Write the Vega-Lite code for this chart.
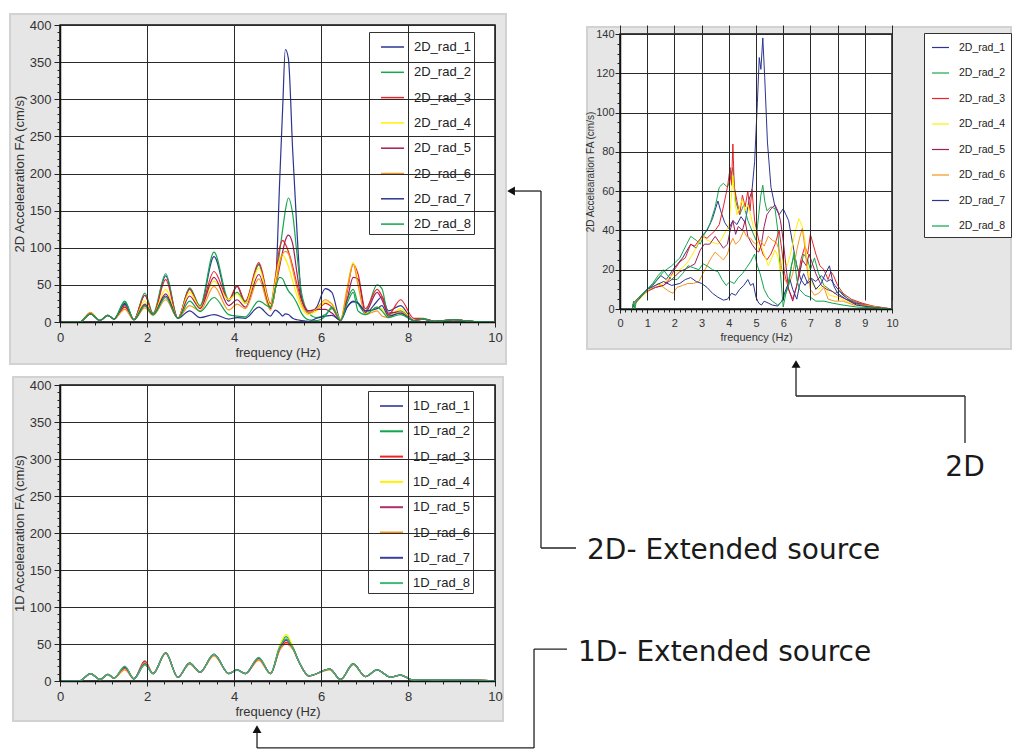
{
"$schema": "https://vega.github.io/schema/vega-lite/v6.json",
"padding": {"left": 9, "top": 13, "right": 0, "bottom": 0},
"background": "white",
"config": {
 "view": {"stroke": null},
 "axis": {"labelFont": "Liberation Sans", "titleFont": "Liberation Sans", "labelColor": "#333", "titleColor": "#333", "titleFontWeight": "normal", "domainColor": "#111", "tickColor": "#222", "gridColor": "#2a2a2a", "gridWidth": 1, "gridOpacity": 1, "labelOverlap": false, "labelFlush": false},
 "legend": {"labelFont": "Liberation Sans", "labelColor": "#222"}
},
"datasets": {
"tl": [
{"s":"2D_rad_1","f":0,"v":0},{"s":"2D_rad_1","f":0.45,"v":0},{"s":"2D_rad_1","f":0.7,"v":11},{"s":"2D_rad_1","f":0.92,"v":2},{"s":"2D_rad_1","f":1.1,"v":9},{"s":"2D_rad_1","f":1.24,"v":4},{"s":"2D_rad_1","f":1.49,"v":24},{"s":"2D_rad_1","f":1.7,"v":3},{"s":"2D_rad_1","f":1.95,"v":36},{"s":"2D_rad_1","f":2.14,"v":10},{"s":"2D_rad_1","f":2.43,"v":62},{"s":"2D_rad_1","f":2.71,"v":5},{"s":"2D_rad_1","f":2.98,"v":45},{"s":"2D_rad_1","f":3.22,"v":20},{"s":"2D_rad_1","f":3.54,"v":88},{"s":"2D_rad_1","f":3.88,"v":28},{"s":"2D_rad_1","f":4.07,"v":48},{"s":"2D_rad_1","f":4.26,"v":25},{"s":"2D_rad_1","f":4.57,"v":78},{"s":"2D_rad_1","f":4.84,"v":20},{"s":"2D_rad_1","f":4.95,"v":45},{"s":"2D_rad_1","f":5.05,"v":190},{"s":"2D_rad_1","f":5.12,"v":290},{"s":"2D_rad_1","f":5.18,"v":367},{"s":"2D_rad_1","f":5.25,"v":355},{"s":"2D_rad_1","f":5.35,"v":230},{"s":"2D_rad_1","f":5.45,"v":120},{"s":"2D_rad_1","f":5.55,"v":35},{"s":"2D_rad_1","f":5.72,"v":12},{"s":"2D_rad_1","f":5.9,"v":20},{"s":"2D_rad_1","f":6.1,"v":45},{"s":"2D_rad_1","f":6.25,"v":40},{"s":"2D_rad_1","f":6.45,"v":3},{"s":"2D_rad_1","f":6.6,"v":20},{"s":"2D_rad_1","f":6.74,"v":27},{"s":"2D_rad_1","f":6.85,"v":25},{"s":"2D_rad_1","f":7.02,"v":12},{"s":"2D_rad_1","f":7.29,"v":28},{"s":"2D_rad_1","f":7.4,"v":34},{"s":"2D_rad_1","f":7.55,"v":15},{"s":"2D_rad_1","f":7.83,"v":22},{"s":"2D_rad_1","f":8.13,"v":2},{"s":"2D_rad_1","f":8.35,"v":4},{"s":"2D_rad_1","f":8.6,"v":1},{"s":"2D_rad_1","f":9.05,"v":3},{"s":"2D_rad_1","f":9.3,"v":2},{"s":"2D_rad_1","f":9.6,"v":0.5},{"s":"2D_rad_1","f":10,"v":0},
{"s":"2D_rad_2","f":0,"v":0},{"s":"2D_rad_2","f":0.45,"v":0},{"s":"2D_rad_2","f":0.7,"v":11},{"s":"2D_rad_2","f":0.92,"v":2},{"s":"2D_rad_2","f":1.1,"v":9},{"s":"2D_rad_2","f":1.24,"v":4},{"s":"2D_rad_2","f":1.49,"v":28},{"s":"2D_rad_2","f":1.7,"v":3},{"s":"2D_rad_2","f":1.95,"v":39},{"s":"2D_rad_2","f":2.14,"v":12},{"s":"2D_rad_2","f":2.43,"v":65},{"s":"2D_rad_2","f":2.71,"v":5},{"s":"2D_rad_2","f":2.98,"v":46},{"s":"2D_rad_2","f":3.22,"v":22},{"s":"2D_rad_2","f":3.54,"v":94},{"s":"2D_rad_2","f":3.88,"v":30},{"s":"2D_rad_2","f":4.07,"v":40},{"s":"2D_rad_2","f":4.26,"v":27},{"s":"2D_rad_2","f":4.57,"v":77},{"s":"2D_rad_2","f":4.84,"v":22},{"s":"2D_rad_2","f":4.95,"v":45},{"s":"2D_rad_2","f":5.05,"v":95},{"s":"2D_rad_2","f":5.12,"v":125},{"s":"2D_rad_2","f":5.18,"v":150},{"s":"2D_rad_2","f":5.25,"v":167},{"s":"2D_rad_2","f":5.35,"v":145},{"s":"2D_rad_2","f":5.45,"v":90},{"s":"2D_rad_2","f":5.55,"v":40},{"s":"2D_rad_2","f":5.72,"v":12},{"s":"2D_rad_2","f":5.9,"v":6},{"s":"2D_rad_2","f":6.1,"v":10},{"s":"2D_rad_2","f":6.25,"v":18},{"s":"2D_rad_2","f":6.45,"v":3},{"s":"2D_rad_2","f":6.6,"v":30},{"s":"2D_rad_2","f":6.74,"v":44},{"s":"2D_rad_2","f":6.85,"v":25},{"s":"2D_rad_2","f":7.02,"v":15},{"s":"2D_rad_2","f":7.29,"v":50},{"s":"2D_rad_2","f":7.4,"v":45},{"s":"2D_rad_2","f":7.55,"v":10},{"s":"2D_rad_2","f":7.83,"v":15},{"s":"2D_rad_2","f":8.13,"v":2},{"s":"2D_rad_2","f":8.35,"v":4},{"s":"2D_rad_2","f":8.6,"v":1},{"s":"2D_rad_2","f":9.05,"v":3},{"s":"2D_rad_2","f":9.3,"v":2},{"s":"2D_rad_2","f":9.6,"v":0.5},{"s":"2D_rad_2","f":10,"v":0},
{"s":"2D_rad_3","f":0,"v":0},{"s":"2D_rad_3","f":0.45,"v":0},{"s":"2D_rad_3","f":0.7,"v":11},{"s":"2D_rad_3","f":0.92,"v":2},{"s":"2D_rad_3","f":1.1,"v":9},{"s":"2D_rad_3","f":1.24,"v":4},{"s":"2D_rad_3","f":1.49,"v":22},{"s":"2D_rad_3","f":1.7,"v":3},{"s":"2D_rad_3","f":1.95,"v":36},{"s":"2D_rad_3","f":2.14,"v":10},{"s":"2D_rad_3","f":2.43,"v":57},{"s":"2D_rad_3","f":2.71,"v":5},{"s":"2D_rad_3","f":2.98,"v":44},{"s":"2D_rad_3","f":3.22,"v":20},{"s":"2D_rad_3","f":3.54,"v":68},{"s":"2D_rad_3","f":3.88,"v":30},{"s":"2D_rad_3","f":4.07,"v":49},{"s":"2D_rad_3","f":4.26,"v":28},{"s":"2D_rad_3","f":4.57,"v":80},{"s":"2D_rad_3","f":4.84,"v":25},{"s":"2D_rad_3","f":4.95,"v":60},{"s":"2D_rad_3","f":5.05,"v":100},{"s":"2D_rad_3","f":5.12,"v":110},{"s":"2D_rad_3","f":5.18,"v":105},{"s":"2D_rad_3","f":5.25,"v":95},{"s":"2D_rad_3","f":5.35,"v":75},{"s":"2D_rad_3","f":5.45,"v":50},{"s":"2D_rad_3","f":5.55,"v":30},{"s":"2D_rad_3","f":5.72,"v":15},{"s":"2D_rad_3","f":5.9,"v":16},{"s":"2D_rad_3","f":6.1,"v":25},{"s":"2D_rad_3","f":6.25,"v":20},{"s":"2D_rad_3","f":6.45,"v":2},{"s":"2D_rad_3","f":6.6,"v":40},{"s":"2D_rad_3","f":6.74,"v":78},{"s":"2D_rad_3","f":6.85,"v":65},{"s":"2D_rad_3","f":7.02,"v":18},{"s":"2D_rad_3","f":7.29,"v":44},{"s":"2D_rad_3","f":7.4,"v":35},{"s":"2D_rad_3","f":7.55,"v":10},{"s":"2D_rad_3","f":7.83,"v":30},{"s":"2D_rad_3","f":8.13,"v":5},{"s":"2D_rad_3","f":8.35,"v":5},{"s":"2D_rad_3","f":8.6,"v":1},{"s":"2D_rad_3","f":9.05,"v":3},{"s":"2D_rad_3","f":9.3,"v":2},{"s":"2D_rad_3","f":9.6,"v":0.5},{"s":"2D_rad_3","f":10,"v":0},
{"s":"2D_rad_4","f":0,"v":0},{"s":"2D_rad_4","f":0.45,"v":0},{"s":"2D_rad_4","f":0.7,"v":11},{"s":"2D_rad_4","f":0.92,"v":2},{"s":"2D_rad_4","f":1.1,"v":9},{"s":"2D_rad_4","f":1.24,"v":4},{"s":"2D_rad_4","f":1.49,"v":20},{"s":"2D_rad_4","f":1.7,"v":3},{"s":"2D_rad_4","f":1.95,"v":28},{"s":"2D_rad_4","f":2.14,"v":10},{"s":"2D_rad_4","f":2.43,"v":44},{"s":"2D_rad_4","f":2.71,"v":5},{"s":"2D_rad_4","f":2.98,"v":40},{"s":"2D_rad_4","f":3.22,"v":20},{"s":"2D_rad_4","f":3.54,"v":55},{"s":"2D_rad_4","f":3.88,"v":30},{"s":"2D_rad_4","f":4.07,"v":38},{"s":"2D_rad_4","f":4.26,"v":25},{"s":"2D_rad_4","f":4.57,"v":73},{"s":"2D_rad_4","f":4.84,"v":22},{"s":"2D_rad_4","f":4.95,"v":55},{"s":"2D_rad_4","f":5.05,"v":85},{"s":"2D_rad_4","f":5.12,"v":90},{"s":"2D_rad_4","f":5.18,"v":85},{"s":"2D_rad_4","f":5.25,"v":75},{"s":"2D_rad_4","f":5.35,"v":55},{"s":"2D_rad_4","f":5.45,"v":35},{"s":"2D_rad_4","f":5.55,"v":20},{"s":"2D_rad_4","f":5.72,"v":10},{"s":"2D_rad_4","f":5.9,"v":15},{"s":"2D_rad_4","f":6.1,"v":27},{"s":"2D_rad_4","f":6.25,"v":25},{"s":"2D_rad_4","f":6.45,"v":3},{"s":"2D_rad_4","f":6.6,"v":45},{"s":"2D_rad_4","f":6.74,"v":80},{"s":"2D_rad_4","f":6.85,"v":55},{"s":"2D_rad_4","f":7.02,"v":12},{"s":"2D_rad_4","f":7.29,"v":20},{"s":"2D_rad_4","f":7.4,"v":18},{"s":"2D_rad_4","f":7.55,"v":8},{"s":"2D_rad_4","f":7.83,"v":18},{"s":"2D_rad_4","f":8.13,"v":2},{"s":"2D_rad_4","f":8.35,"v":4},{"s":"2D_rad_4","f":8.6,"v":1},{"s":"2D_rad_4","f":9.05,"v":3},{"s":"2D_rad_4","f":9.3,"v":2},{"s":"2D_rad_4","f":9.6,"v":0.5},{"s":"2D_rad_4","f":10,"v":0},
{"s":"2D_rad_5","f":0,"v":0},{"s":"2D_rad_5","f":0.45,"v":0},{"s":"2D_rad_5","f":0.7,"v":11},{"s":"2D_rad_5","f":0.92,"v":2},{"s":"2D_rad_5","f":1.1,"v":9},{"s":"2D_rad_5","f":1.24,"v":4},{"s":"2D_rad_5","f":1.49,"v":20},{"s":"2D_rad_5","f":1.7,"v":3},{"s":"2D_rad_5","f":1.95,"v":24},{"s":"2D_rad_5","f":2.14,"v":10},{"s":"2D_rad_5","f":2.43,"v":38},{"s":"2D_rad_5","f":2.71,"v":5},{"s":"2D_rad_5","f":2.98,"v":35},{"s":"2D_rad_5","f":3.22,"v":18},{"s":"2D_rad_5","f":3.54,"v":60},{"s":"2D_rad_5","f":3.88,"v":22},{"s":"2D_rad_5","f":4.07,"v":30},{"s":"2D_rad_5","f":4.26,"v":20},{"s":"2D_rad_5","f":4.57,"v":64},{"s":"2D_rad_5","f":4.84,"v":18},{"s":"2D_rad_5","f":4.95,"v":45},{"s":"2D_rad_5","f":5.05,"v":75},{"s":"2D_rad_5","f":5.12,"v":95},{"s":"2D_rad_5","f":5.18,"v":110},{"s":"2D_rad_5","f":5.25,"v":117},{"s":"2D_rad_5","f":5.35,"v":105},{"s":"2D_rad_5","f":5.45,"v":65},{"s":"2D_rad_5","f":5.55,"v":30},{"s":"2D_rad_5","f":5.72,"v":15},{"s":"2D_rad_5","f":5.9,"v":17},{"s":"2D_rad_5","f":6.1,"v":17},{"s":"2D_rad_5","f":6.25,"v":12},{"s":"2D_rad_5","f":6.45,"v":2},{"s":"2D_rad_5","f":6.6,"v":30},{"s":"2D_rad_5","f":6.74,"v":60},{"s":"2D_rad_5","f":6.85,"v":58},{"s":"2D_rad_5","f":7.02,"v":13},{"s":"2D_rad_5","f":7.29,"v":40},{"s":"2D_rad_5","f":7.4,"v":30},{"s":"2D_rad_5","f":7.55,"v":12},{"s":"2D_rad_5","f":7.83,"v":14},{"s":"2D_rad_5","f":8.13,"v":2},{"s":"2D_rad_5","f":8.35,"v":4},{"s":"2D_rad_5","f":8.6,"v":1},{"s":"2D_rad_5","f":9.05,"v":3},{"s":"2D_rad_5","f":9.3,"v":2},{"s":"2D_rad_5","f":9.6,"v":0.5},{"s":"2D_rad_5","f":10,"v":0},
{"s":"2D_rad_6","f":0,"v":0},{"s":"2D_rad_6","f":0.45,"v":0},{"s":"2D_rad_6","f":0.7,"v":13},{"s":"2D_rad_6","f":0.92,"v":2},{"s":"2D_rad_6","f":1.1,"v":9},{"s":"2D_rad_6","f":1.24,"v":4},{"s":"2D_rad_6","f":1.49,"v":17},{"s":"2D_rad_6","f":1.7,"v":3},{"s":"2D_rad_6","f":1.95,"v":19},{"s":"2D_rad_6","f":2.14,"v":9},{"s":"2D_rad_6","f":2.43,"v":30},{"s":"2D_rad_6","f":2.71,"v":5},{"s":"2D_rad_6","f":2.98,"v":22},{"s":"2D_rad_6","f":3.22,"v":15},{"s":"2D_rad_6","f":3.54,"v":48},{"s":"2D_rad_6","f":3.88,"v":16},{"s":"2D_rad_6","f":4.07,"v":24},{"s":"2D_rad_6","f":4.26,"v":18},{"s":"2D_rad_6","f":4.57,"v":58},{"s":"2D_rad_6","f":4.84,"v":16},{"s":"2D_rad_6","f":4.95,"v":45},{"s":"2D_rad_6","f":5.05,"v":80},{"s":"2D_rad_6","f":5.12,"v":92},{"s":"2D_rad_6","f":5.18,"v":95},{"s":"2D_rad_6","f":5.25,"v":92},{"s":"2D_rad_6","f":5.35,"v":70},{"s":"2D_rad_6","f":5.45,"v":45},{"s":"2D_rad_6","f":5.55,"v":25},{"s":"2D_rad_6","f":5.72,"v":12},{"s":"2D_rad_6","f":5.9,"v":18},{"s":"2D_rad_6","f":6.1,"v":30},{"s":"2D_rad_6","f":6.25,"v":24},{"s":"2D_rad_6","f":6.45,"v":3},{"s":"2D_rad_6","f":6.6,"v":45},{"s":"2D_rad_6","f":6.74,"v":78},{"s":"2D_rad_6","f":6.85,"v":50},{"s":"2D_rad_6","f":7.02,"v":10},{"s":"2D_rad_6","f":7.29,"v":15},{"s":"2D_rad_6","f":7.4,"v":8},{"s":"2D_rad_6","f":7.55,"v":6},{"s":"2D_rad_6","f":7.83,"v":14},{"s":"2D_rad_6","f":8.13,"v":2},{"s":"2D_rad_6","f":8.35,"v":4},{"s":"2D_rad_6","f":8.6,"v":1},{"s":"2D_rad_6","f":9.05,"v":3},{"s":"2D_rad_6","f":9.3,"v":2},{"s":"2D_rad_6","f":9.6,"v":0.5},{"s":"2D_rad_6","f":10,"v":0},
{"s":"2D_rad_7","f":0,"v":0},{"s":"2D_rad_7","f":0.45,"v":0},{"s":"2D_rad_7","f":0.7,"v":11},{"s":"2D_rad_7","f":0.92,"v":2},{"s":"2D_rad_7","f":1.1,"v":9},{"s":"2D_rad_7","f":1.24,"v":4},{"s":"2D_rad_7","f":1.49,"v":25},{"s":"2D_rad_7","f":1.7,"v":3},{"s":"2D_rad_7","f":1.95,"v":22},{"s":"2D_rad_7","f":2.14,"v":10},{"s":"2D_rad_7","f":2.43,"v":35},{"s":"2D_rad_7","f":2.71,"v":5},{"s":"2D_rad_7","f":2.98,"v":15},{"s":"2D_rad_7","f":3.22,"v":6},{"s":"2D_rad_7","f":3.54,"v":10},{"s":"2D_rad_7","f":3.88,"v":4},{"s":"2D_rad_7","f":4.07,"v":6},{"s":"2D_rad_7","f":4.26,"v":5},{"s":"2D_rad_7","f":4.57,"v":20},{"s":"2D_rad_7","f":4.84,"v":8},{"s":"2D_rad_7","f":4.95,"v":16},{"s":"2D_rad_7","f":5.05,"v":12},{"s":"2D_rad_7","f":5.12,"v":8},{"s":"2D_rad_7","f":5.18,"v":11},{"s":"2D_rad_7","f":5.25,"v":10},{"s":"2D_rad_7","f":5.35,"v":5},{"s":"2D_rad_7","f":5.45,"v":3},{"s":"2D_rad_7","f":5.55,"v":2},{"s":"2D_rad_7","f":5.72,"v":1},{"s":"2D_rad_7","f":5.9,"v":5},{"s":"2D_rad_7","f":6.1,"v":8},{"s":"2D_rad_7","f":6.25,"v":9},{"s":"2D_rad_7","f":6.45,"v":2},{"s":"2D_rad_7","f":6.6,"v":20},{"s":"2D_rad_7","f":6.74,"v":28},{"s":"2D_rad_7","f":6.85,"v":26},{"s":"2D_rad_7","f":7.02,"v":15},{"s":"2D_rad_7","f":7.29,"v":18},{"s":"2D_rad_7","f":7.4,"v":22},{"s":"2D_rad_7","f":7.55,"v":8},{"s":"2D_rad_7","f":7.83,"v":12},{"s":"2D_rad_7","f":8.13,"v":2},{"s":"2D_rad_7","f":8.35,"v":4},{"s":"2D_rad_7","f":8.6,"v":1},{"s":"2D_rad_7","f":9.05,"v":3},{"s":"2D_rad_7","f":9.3,"v":2},{"s":"2D_rad_7","f":9.6,"v":0.5},{"s":"2D_rad_7","f":10,"v":0},
{"s":"2D_rad_8","f":0,"v":0},{"s":"2D_rad_8","f":0.45,"v":0},{"s":"2D_rad_8","f":0.7,"v":11},{"s":"2D_rad_8","f":0.92,"v":2},{"s":"2D_rad_8","f":1.1,"v":9},{"s":"2D_rad_8","f":1.24,"v":4},{"s":"2D_rad_8","f":1.49,"v":27},{"s":"2D_rad_8","f":1.7,"v":3},{"s":"2D_rad_8","f":1.95,"v":22},{"s":"2D_rad_8","f":2.14,"v":10},{"s":"2D_rad_8","f":2.43,"v":33},{"s":"2D_rad_8","f":2.71,"v":5},{"s":"2D_rad_8","f":2.98,"v":28},{"s":"2D_rad_8","f":3.22,"v":14},{"s":"2D_rad_8","f":3.54,"v":33},{"s":"2D_rad_8","f":3.88,"v":10},{"s":"2D_rad_8","f":4.07,"v":8},{"s":"2D_rad_8","f":4.26,"v":7},{"s":"2D_rad_8","f":4.57,"v":28},{"s":"2D_rad_8","f":4.84,"v":20},{"s":"2D_rad_8","f":4.95,"v":45},{"s":"2D_rad_8","f":5.05,"v":60},{"s":"2D_rad_8","f":5.12,"v":58},{"s":"2D_rad_8","f":5.18,"v":50},{"s":"2D_rad_8","f":5.25,"v":42},{"s":"2D_rad_8","f":5.35,"v":35},{"s":"2D_rad_8","f":5.45,"v":25},{"s":"2D_rad_8","f":5.55,"v":12},{"s":"2D_rad_8","f":5.72,"v":3},{"s":"2D_rad_8","f":5.9,"v":2},{"s":"2D_rad_8","f":6.1,"v":8},{"s":"2D_rad_8","f":6.25,"v":20},{"s":"2D_rad_8","f":6.45,"v":2},{"s":"2D_rad_8","f":6.6,"v":25},{"s":"2D_rad_8","f":6.74,"v":40},{"s":"2D_rad_8","f":6.85,"v":15},{"s":"2D_rad_8","f":7.02,"v":10},{"s":"2D_rad_8","f":7.29,"v":20},{"s":"2D_rad_8","f":7.4,"v":15},{"s":"2D_rad_8","f":7.55,"v":6},{"s":"2D_rad_8","f":7.83,"v":10},{"s":"2D_rad_8","f":8.13,"v":2},{"s":"2D_rad_8","f":8.35,"v":4},{"s":"2D_rad_8","f":8.6,"v":1},{"s":"2D_rad_8","f":9.05,"v":3},{"s":"2D_rad_8","f":9.3,"v":2},{"s":"2D_rad_8","f":9.6,"v":0.5},{"s":"2D_rad_8","f":10,"v":0}
],
"bl": [
{"s":"1D_rad_1","f":0,"v":0},{"s":"1D_rad_1","f":0.45,"v":0},{"s":"1D_rad_1","f":0.7,"v":10},{"s":"1D_rad_1","f":0.92,"v":2},{"s":"1D_rad_1","f":1.1,"v":9},{"s":"1D_rad_1","f":1.24,"v":4},{"s":"1D_rad_1","f":1.49,"v":18},{"s":"1D_rad_1","f":1.7,"v":3},{"s":"1D_rad_1","f":1.95,"v":23},{"s":"1D_rad_1","f":2.14,"v":10},{"s":"1D_rad_1","f":2.43,"v":38},{"s":"1D_rad_1","f":2.71,"v":5},{"s":"1D_rad_1","f":2.98,"v":24},{"s":"1D_rad_1","f":3.22,"v":12},{"s":"1D_rad_1","f":3.54,"v":36},{"s":"1D_rad_1","f":3.88,"v":10},{"s":"1D_rad_1","f":4.07,"v":15},{"s":"1D_rad_1","f":4.26,"v":10},{"s":"1D_rad_1","f":4.57,"v":30},{"s":"1D_rad_1","f":4.84,"v":10},{"s":"1D_rad_1","f":5.05,"v":44},{"s":"1D_rad_1","f":5.2,"v":56},{"s":"1D_rad_1","f":5.35,"v":46},{"s":"1D_rad_1","f":5.5,"v":25},{"s":"1D_rad_1","f":5.72,"v":7},{"s":"1D_rad_1","f":6.2,"v":16},{"s":"1D_rad_1","f":6.45,"v":2},{"s":"1D_rad_1","f":6.74,"v":23},{"s":"1D_rad_1","f":7.02,"v":6},{"s":"1D_rad_1","f":7.29,"v":15},{"s":"1D_rad_1","f":7.6,"v":5},{"s":"1D_rad_1","f":7.83,"v":8},{"s":"1D_rad_1","f":8.13,"v":1},{"s":"1D_rad_1","f":8.4,"v":1.5},{"s":"1D_rad_1","f":8.6,"v":1},{"s":"1D_rad_1","f":9.05,"v":1.5},{"s":"1D_rad_1","f":10,"v":0},
{"s":"1D_rad_2","f":0,"v":0},{"s":"1D_rad_2","f":0.45,"v":0},{"s":"1D_rad_2","f":0.7,"v":10},{"s":"1D_rad_2","f":0.92,"v":2},{"s":"1D_rad_2","f":1.1,"v":9},{"s":"1D_rad_2","f":1.24,"v":4},{"s":"1D_rad_2","f":1.49,"v":19},{"s":"1D_rad_2","f":1.7,"v":3},{"s":"1D_rad_2","f":1.95,"v":22},{"s":"1D_rad_2","f":2.14,"v":10},{"s":"1D_rad_2","f":2.43,"v":38},{"s":"1D_rad_2","f":2.71,"v":5},{"s":"1D_rad_2","f":2.98,"v":24},{"s":"1D_rad_2","f":3.22,"v":12},{"s":"1D_rad_2","f":3.54,"v":36},{"s":"1D_rad_2","f":3.88,"v":10},{"s":"1D_rad_2","f":4.07,"v":15},{"s":"1D_rad_2","f":4.26,"v":10},{"s":"1D_rad_2","f":4.57,"v":31},{"s":"1D_rad_2","f":4.84,"v":10},{"s":"1D_rad_2","f":5.05,"v":47},{"s":"1D_rad_2","f":5.2,"v":60},{"s":"1D_rad_2","f":5.35,"v":46},{"s":"1D_rad_2","f":5.5,"v":25},{"s":"1D_rad_2","f":5.72,"v":7},{"s":"1D_rad_2","f":6.2,"v":16},{"s":"1D_rad_2","f":6.45,"v":2},{"s":"1D_rad_2","f":6.74,"v":23},{"s":"1D_rad_2","f":7.02,"v":6},{"s":"1D_rad_2","f":7.29,"v":15},{"s":"1D_rad_2","f":7.6,"v":5},{"s":"1D_rad_2","f":7.83,"v":8},{"s":"1D_rad_2","f":8.13,"v":1},{"s":"1D_rad_2","f":8.4,"v":1.5},{"s":"1D_rad_2","f":8.6,"v":1},{"s":"1D_rad_2","f":9.05,"v":1.5},{"s":"1D_rad_2","f":10,"v":0},
{"s":"1D_rad_3","f":0,"v":0},{"s":"1D_rad_3","f":0.45,"v":0},{"s":"1D_rad_3","f":0.7,"v":10},{"s":"1D_rad_3","f":0.92,"v":2},{"s":"1D_rad_3","f":1.1,"v":9},{"s":"1D_rad_3","f":1.24,"v":4},{"s":"1D_rad_3","f":1.49,"v":17},{"s":"1D_rad_3","f":1.7,"v":3},{"s":"1D_rad_3","f":1.95,"v":27},{"s":"1D_rad_3","f":2.14,"v":10},{"s":"1D_rad_3","f":2.43,"v":38},{"s":"1D_rad_3","f":2.71,"v":5},{"s":"1D_rad_3","f":2.98,"v":24},{"s":"1D_rad_3","f":3.22,"v":12},{"s":"1D_rad_3","f":3.54,"v":36},{"s":"1D_rad_3","f":3.88,"v":10},{"s":"1D_rad_3","f":4.07,"v":15},{"s":"1D_rad_3","f":4.26,"v":10},{"s":"1D_rad_3","f":4.57,"v":29},{"s":"1D_rad_3","f":4.84,"v":10},{"s":"1D_rad_3","f":5.05,"v":42},{"s":"1D_rad_3","f":5.2,"v":52},{"s":"1D_rad_3","f":5.35,"v":44},{"s":"1D_rad_3","f":5.5,"v":25},{"s":"1D_rad_3","f":5.72,"v":7},{"s":"1D_rad_3","f":6.2,"v":16},{"s":"1D_rad_3","f":6.45,"v":2},{"s":"1D_rad_3","f":6.74,"v":23},{"s":"1D_rad_3","f":7.02,"v":6},{"s":"1D_rad_3","f":7.29,"v":15},{"s":"1D_rad_3","f":7.6,"v":5},{"s":"1D_rad_3","f":7.83,"v":8},{"s":"1D_rad_3","f":8.13,"v":1},{"s":"1D_rad_3","f":8.4,"v":1.5},{"s":"1D_rad_3","f":8.6,"v":1},{"s":"1D_rad_3","f":9.05,"v":1.5},{"s":"1D_rad_3","f":10,"v":0},
{"s":"1D_rad_4","f":0,"v":0},{"s":"1D_rad_4","f":0.45,"v":0},{"s":"1D_rad_4","f":0.7,"v":10},{"s":"1D_rad_4","f":0.92,"v":2},{"s":"1D_rad_4","f":1.1,"v":9},{"s":"1D_rad_4","f":1.24,"v":4},{"s":"1D_rad_4","f":1.49,"v":18},{"s":"1D_rad_4","f":1.7,"v":3},{"s":"1D_rad_4","f":1.95,"v":25},{"s":"1D_rad_4","f":2.14,"v":10},{"s":"1D_rad_4","f":2.43,"v":38},{"s":"1D_rad_4","f":2.71,"v":5},{"s":"1D_rad_4","f":2.98,"v":24},{"s":"1D_rad_4","f":3.22,"v":12},{"s":"1D_rad_4","f":3.54,"v":36},{"s":"1D_rad_4","f":3.88,"v":10},{"s":"1D_rad_4","f":4.07,"v":15},{"s":"1D_rad_4","f":4.26,"v":10},{"s":"1D_rad_4","f":4.57,"v":30},{"s":"1D_rad_4","f":4.84,"v":10},{"s":"1D_rad_4","f":5.05,"v":48},{"s":"1D_rad_4","f":5.2,"v":63},{"s":"1D_rad_4","f":5.35,"v":47},{"s":"1D_rad_4","f":5.5,"v":25},{"s":"1D_rad_4","f":5.72,"v":7},{"s":"1D_rad_4","f":6.2,"v":16},{"s":"1D_rad_4","f":6.45,"v":2},{"s":"1D_rad_4","f":6.74,"v":23},{"s":"1D_rad_4","f":7.02,"v":6},{"s":"1D_rad_4","f":7.29,"v":15},{"s":"1D_rad_4","f":7.6,"v":5},{"s":"1D_rad_4","f":7.83,"v":8},{"s":"1D_rad_4","f":8.13,"v":1},{"s":"1D_rad_4","f":8.4,"v":1.5},{"s":"1D_rad_4","f":8.6,"v":1},{"s":"1D_rad_4","f":9.05,"v":1.5},{"s":"1D_rad_4","f":10,"v":0},
{"s":"1D_rad_5","f":0,"v":0},{"s":"1D_rad_5","f":0.45,"v":0},{"s":"1D_rad_5","f":0.7,"v":10},{"s":"1D_rad_5","f":0.92,"v":2},{"s":"1D_rad_5","f":1.1,"v":9},{"s":"1D_rad_5","f":1.24,"v":4},{"s":"1D_rad_5","f":1.49,"v":18},{"s":"1D_rad_5","f":1.7,"v":3},{"s":"1D_rad_5","f":1.95,"v":26},{"s":"1D_rad_5","f":2.14,"v":10},{"s":"1D_rad_5","f":2.43,"v":38},{"s":"1D_rad_5","f":2.71,"v":5},{"s":"1D_rad_5","f":2.98,"v":24},{"s":"1D_rad_5","f":3.22,"v":12},{"s":"1D_rad_5","f":3.54,"v":36},{"s":"1D_rad_5","f":3.88,"v":10},{"s":"1D_rad_5","f":4.07,"v":15},{"s":"1D_rad_5","f":4.26,"v":10},{"s":"1D_rad_5","f":4.57,"v":31},{"s":"1D_rad_5","f":4.84,"v":10},{"s":"1D_rad_5","f":5.05,"v":44},{"s":"1D_rad_5","f":5.2,"v":55},{"s":"1D_rad_5","f":5.35,"v":45},{"s":"1D_rad_5","f":5.5,"v":25},{"s":"1D_rad_5","f":5.72,"v":7},{"s":"1D_rad_5","f":6.2,"v":16},{"s":"1D_rad_5","f":6.45,"v":2},{"s":"1D_rad_5","f":6.74,"v":23},{"s":"1D_rad_5","f":7.02,"v":6},{"s":"1D_rad_5","f":7.29,"v":15},{"s":"1D_rad_5","f":7.6,"v":5},{"s":"1D_rad_5","f":7.83,"v":8},{"s":"1D_rad_5","f":8.13,"v":1},{"s":"1D_rad_5","f":8.4,"v":1.5},{"s":"1D_rad_5","f":8.6,"v":1},{"s":"1D_rad_5","f":9.05,"v":1.5},{"s":"1D_rad_5","f":10,"v":0},
{"s":"1D_rad_6","f":0,"v":0},{"s":"1D_rad_6","f":0.45,"v":0},{"s":"1D_rad_6","f":0.7,"v":10},{"s":"1D_rad_6","f":0.92,"v":2},{"s":"1D_rad_6","f":1.1,"v":9},{"s":"1D_rad_6","f":1.24,"v":4},{"s":"1D_rad_6","f":1.49,"v":15},{"s":"1D_rad_6","f":1.7,"v":3},{"s":"1D_rad_6","f":1.95,"v":25},{"s":"1D_rad_6","f":2.14,"v":10},{"s":"1D_rad_6","f":2.43,"v":37},{"s":"1D_rad_6","f":2.71,"v":5},{"s":"1D_rad_6","f":2.98,"v":23},{"s":"1D_rad_6","f":3.22,"v":12},{"s":"1D_rad_6","f":3.54,"v":34},{"s":"1D_rad_6","f":3.88,"v":10},{"s":"1D_rad_6","f":4.07,"v":15},{"s":"1D_rad_6","f":4.26,"v":10},{"s":"1D_rad_6","f":4.57,"v":28},{"s":"1D_rad_6","f":4.84,"v":10},{"s":"1D_rad_6","f":5.05,"v":42},{"s":"1D_rad_6","f":5.2,"v":50},{"s":"1D_rad_6","f":5.35,"v":43},{"s":"1D_rad_6","f":5.5,"v":25},{"s":"1D_rad_6","f":5.72,"v":7},{"s":"1D_rad_6","f":6.2,"v":15},{"s":"1D_rad_6","f":6.45,"v":2},{"s":"1D_rad_6","f":6.74,"v":22},{"s":"1D_rad_6","f":7.02,"v":6},{"s":"1D_rad_6","f":7.29,"v":15},{"s":"1D_rad_6","f":7.6,"v":5},{"s":"1D_rad_6","f":7.83,"v":8},{"s":"1D_rad_6","f":8.13,"v":1},{"s":"1D_rad_6","f":8.4,"v":1.5},{"s":"1D_rad_6","f":8.6,"v":1},{"s":"1D_rad_6","f":9.05,"v":1.5},{"s":"1D_rad_6","f":10,"v":0},
{"s":"1D_rad_7","f":0,"v":0},{"s":"1D_rad_7","f":0.45,"v":0},{"s":"1D_rad_7","f":0.7,"v":10},{"s":"1D_rad_7","f":0.92,"v":2},{"s":"1D_rad_7","f":1.1,"v":9},{"s":"1D_rad_7","f":1.24,"v":4},{"s":"1D_rad_7","f":1.49,"v":19},{"s":"1D_rad_7","f":1.7,"v":3},{"s":"1D_rad_7","f":1.95,"v":23},{"s":"1D_rad_7","f":2.14,"v":10},{"s":"1D_rad_7","f":2.43,"v":38},{"s":"1D_rad_7","f":2.71,"v":5},{"s":"1D_rad_7","f":2.98,"v":24},{"s":"1D_rad_7","f":3.22,"v":12},{"s":"1D_rad_7","f":3.54,"v":36},{"s":"1D_rad_7","f":3.88,"v":10},{"s":"1D_rad_7","f":4.07,"v":15},{"s":"1D_rad_7","f":4.26,"v":10},{"s":"1D_rad_7","f":4.57,"v":31},{"s":"1D_rad_7","f":4.84,"v":10},{"s":"1D_rad_7","f":5.05,"v":45},{"s":"1D_rad_7","f":5.2,"v":56},{"s":"1D_rad_7","f":5.35,"v":45},{"s":"1D_rad_7","f":5.5,"v":25},{"s":"1D_rad_7","f":5.72,"v":7},{"s":"1D_rad_7","f":6.2,"v":16},{"s":"1D_rad_7","f":6.45,"v":2},{"s":"1D_rad_7","f":6.74,"v":23},{"s":"1D_rad_7","f":7.02,"v":6},{"s":"1D_rad_7","f":7.29,"v":15},{"s":"1D_rad_7","f":7.6,"v":5},{"s":"1D_rad_7","f":7.83,"v":8},{"s":"1D_rad_7","f":8.13,"v":1},{"s":"1D_rad_7","f":8.4,"v":1.5},{"s":"1D_rad_7","f":8.6,"v":1},{"s":"1D_rad_7","f":9.05,"v":1.5},{"s":"1D_rad_7","f":10,"v":0},
{"s":"1D_rad_8","f":0,"v":0},{"s":"1D_rad_8","f":0.45,"v":0},{"s":"1D_rad_8","f":0.7,"v":10},{"s":"1D_rad_8","f":0.92,"v":2},{"s":"1D_rad_8","f":1.1,"v":9},{"s":"1D_rad_8","f":1.24,"v":4},{"s":"1D_rad_8","f":1.49,"v":20},{"s":"1D_rad_8","f":1.7,"v":3},{"s":"1D_rad_8","f":1.95,"v":22},{"s":"1D_rad_8","f":2.14,"v":10},{"s":"1D_rad_8","f":2.43,"v":38},{"s":"1D_rad_8","f":2.71,"v":5},{"s":"1D_rad_8","f":2.98,"v":24},{"s":"1D_rad_8","f":3.22,"v":12},{"s":"1D_rad_8","f":3.54,"v":36},{"s":"1D_rad_8","f":3.88,"v":10},{"s":"1D_rad_8","f":4.07,"v":15},{"s":"1D_rad_8","f":4.26,"v":10},{"s":"1D_rad_8","f":4.57,"v":32},{"s":"1D_rad_8","f":4.84,"v":10},{"s":"1D_rad_8","f":5.05,"v":46},{"s":"1D_rad_8","f":5.2,"v":57},{"s":"1D_rad_8","f":5.35,"v":45},{"s":"1D_rad_8","f":5.5,"v":25},{"s":"1D_rad_8","f":5.72,"v":7},{"s":"1D_rad_8","f":6.2,"v":16},{"s":"1D_rad_8","f":6.45,"v":2},{"s":"1D_rad_8","f":6.74,"v":23},{"s":"1D_rad_8","f":7.02,"v":6},{"s":"1D_rad_8","f":7.29,"v":15},{"s":"1D_rad_8","f":7.6,"v":5},{"s":"1D_rad_8","f":7.83,"v":8},{"s":"1D_rad_8","f":8.13,"v":1},{"s":"1D_rad_8","f":8.4,"v":1.5},{"s":"1D_rad_8","f":8.6,"v":1},{"s":"1D_rad_8","f":9.05,"v":1.5},{"s":"1D_rad_8","f":10,"v":0}
],
"tr": [
{"s":"2D_rad_1","f":0,"v":0},{"s":"2D_rad_1","f":0.45,"v":0},{"s":"2D_rad_1","f":0.5,"v":3},{"s":"2D_rad_1","f":0.7,"v":6},{"s":"2D_rad_1","f":1.0,"v":10},{"s":"2D_rad_1","f":1.2,"v":12},{"s":"2D_rad_1","f":1.5,"v":17},{"s":"2D_rad_1","f":1.7,"v":15},{"s":"2D_rad_1","f":2.0,"v":21},{"s":"2D_rad_1","f":2.3,"v":26},{"s":"2D_rad_1","f":2.6,"v":33},{"s":"2D_rad_1","f":2.8,"v":31},{"s":"2D_rad_1","f":3.0,"v":37},{"s":"2D_rad_1","f":3.2,"v":40},{"s":"2D_rad_1","f":3.4,"v":46},{"s":"2D_rad_1","f":3.6,"v":55},{"s":"2D_rad_1","f":3.7,"v":50},{"s":"2D_rad_1","f":3.85,"v":44},{"s":"2D_rad_1","f":4.0,"v":41},{"s":"2D_rad_1","f":4.15,"v":45},{"s":"2D_rad_1","f":4.3,"v":43},{"s":"2D_rad_1","f":4.45,"v":47},{"s":"2D_rad_1","f":4.6,"v":44},{"s":"2D_rad_1","f":4.75,"v":56},{"s":"2D_rad_1","f":4.85,"v":60},{"s":"2D_rad_1","f":4.95,"v":75},{"s":"2D_rad_1","f":5.05,"v":105},{"s":"2D_rad_1","f":5.12,"v":128},{"s":"2D_rad_1","f":5.18,"v":122},{"s":"2D_rad_1","f":5.25,"v":138},{"s":"2D_rad_1","f":5.32,"v":118},{"s":"2D_rad_1","f":5.42,"v":85},{"s":"2D_rad_1","f":5.55,"v":62},{"s":"2D_rad_1","f":5.7,"v":52},{"s":"2D_rad_1","f":5.85,"v":48},{"s":"2D_rad_1","f":6.0,"v":51},{"s":"2D_rad_1","f":6.1,"v":48},{"s":"2D_rad_1","f":6.2,"v":45},{"s":"2D_rad_1","f":6.35,"v":33},{"s":"2D_rad_1","f":6.5,"v":22},{"s":"2D_rad_1","f":6.65,"v":15},{"s":"2D_rad_1","f":6.8,"v":12},{"s":"2D_rad_1","f":7.0,"v":16},{"s":"2D_rad_1","f":7.2,"v":14},{"s":"2D_rad_1","f":7.4,"v":17},{"s":"2D_rad_1","f":7.6,"v":14},{"s":"2D_rad_1","f":7.75,"v":15},{"s":"2D_rad_1","f":7.9,"v":12},{"s":"2D_rad_1","f":8.2,"v":7},{"s":"2D_rad_1","f":8.6,"v":3},{"s":"2D_rad_1","f":9.0,"v":1.5},{"s":"2D_rad_1","f":9.5,"v":0.5},{"s":"2D_rad_1","f":10,"v":0},
{"s":"2D_rad_2","f":0,"v":0},{"s":"2D_rad_2","f":0.45,"v":0},{"s":"2D_rad_2","f":0.5,"v":3},{"s":"2D_rad_2","f":0.7,"v":6},{"s":"2D_rad_2","f":1.0,"v":10},{"s":"2D_rad_2","f":1.3,"v":14},{"s":"2D_rad_2","f":1.6,"v":19},{"s":"2D_rad_2","f":1.9,"v":22},{"s":"2D_rad_2","f":2.2,"v":26},{"s":"2D_rad_2","f":2.45,"v":33},{"s":"2D_rad_2","f":2.6,"v":37},{"s":"2D_rad_2","f":2.8,"v":35},{"s":"2D_rad_2","f":2.95,"v":33},{"s":"2D_rad_2","f":3.1,"v":38},{"s":"2D_rad_2","f":3.3,"v":43},{"s":"2D_rad_2","f":3.5,"v":52},{"s":"2D_rad_2","f":3.65,"v":62},{"s":"2D_rad_2","f":3.8,"v":64},{"s":"2D_rad_2","f":3.95,"v":62},{"s":"2D_rad_2","f":4.05,"v":66},{"s":"2D_rad_2","f":4.15,"v":72},{"s":"2D_rad_2","f":4.25,"v":55},{"s":"2D_rad_2","f":4.4,"v":48},{"s":"2D_rad_2","f":4.55,"v":53},{"s":"2D_rad_2","f":4.7,"v":45},{"s":"2D_rad_2","f":4.85,"v":40},{"s":"2D_rad_2","f":5.0,"v":35},{"s":"2D_rad_2","f":5.1,"v":48},{"s":"2D_rad_2","f":5.18,"v":58},{"s":"2D_rad_2","f":5.25,"v":63},{"s":"2D_rad_2","f":5.32,"v":55},{"s":"2D_rad_2","f":5.4,"v":50},{"s":"2D_rad_2","f":5.55,"v":52},{"s":"2D_rad_2","f":5.7,"v":51},{"s":"2D_rad_2","f":5.8,"v":40},{"s":"2D_rad_2","f":5.9,"v":18},{"s":"2D_rad_2","f":6.0,"v":1},{"s":"2D_rad_2","f":6.1,"v":8},{"s":"2D_rad_2","f":6.25,"v":18},{"s":"2D_rad_2","f":6.4,"v":29},{"s":"2D_rad_2","f":6.5,"v":22},{"s":"2D_rad_2","f":6.6,"v":18},{"s":"2D_rad_2","f":6.75,"v":28},{"s":"2D_rad_2","f":6.9,"v":25},{"s":"2D_rad_2","f":7.0,"v":20},{"s":"2D_rad_2","f":7.15,"v":26},{"s":"2D_rad_2","f":7.3,"v":18},{"s":"2D_rad_2","f":7.5,"v":12},{"s":"2D_rad_2","f":7.7,"v":10},{"s":"2D_rad_2","f":7.9,"v":8},{"s":"2D_rad_2","f":8.1,"v":9},{"s":"2D_rad_2","f":8.4,"v":5},{"s":"2D_rad_2","f":8.8,"v":3},{"s":"2D_rad_2","f":9.3,"v":1},{"s":"2D_rad_2","f":10,"v":0},
{"s":"2D_rad_3","f":0,"v":0},{"s":"2D_rad_3","f":0.45,"v":0},{"s":"2D_rad_3","f":0.5,"v":3},{"s":"2D_rad_3","f":0.8,"v":7},{"s":"2D_rad_3","f":1.0,"v":9},{"s":"2D_rad_3","f":1.3,"v":11},{"s":"2D_rad_3","f":1.6,"v":12},{"s":"2D_rad_3","f":1.8,"v":15},{"s":"2D_rad_3","f":2.0,"v":20},{"s":"2D_rad_3","f":2.2,"v":24},{"s":"2D_rad_3","f":2.4,"v":26},{"s":"2D_rad_3","f":2.6,"v":33},{"s":"2D_rad_3","f":2.75,"v":32},{"s":"2D_rad_3","f":2.9,"v":35},{"s":"2D_rad_3","f":3.05,"v":37},{"s":"2D_rad_3","f":3.2,"v":36},{"s":"2D_rad_3","f":3.35,"v":38},{"s":"2D_rad_3","f":3.5,"v":40},{"s":"2D_rad_3","f":3.65,"v":43},{"s":"2D_rad_3","f":3.8,"v":52},{"s":"2D_rad_3","f":3.95,"v":62},{"s":"2D_rad_3","f":4.05,"v":72},{"s":"2D_rad_3","f":4.1,"v":63},{"s":"2D_rad_3","f":4.15,"v":84},{"s":"2D_rad_3","f":4.2,"v":62},{"s":"2D_rad_3","f":4.3,"v":55},{"s":"2D_rad_3","f":4.4,"v":48},{"s":"2D_rad_3","f":4.5,"v":58},{"s":"2D_rad_3","f":4.6,"v":52},{"s":"2D_rad_3","f":4.7,"v":60},{"s":"2D_rad_3","f":4.78,"v":50},{"s":"2D_rad_3","f":4.85,"v":61},{"s":"2D_rad_3","f":4.95,"v":45},{"s":"2D_rad_3","f":5.1,"v":35},{"s":"2D_rad_3","f":5.25,"v":28},{"s":"2D_rad_3","f":5.4,"v":25},{"s":"2D_rad_3","f":5.55,"v":28},{"s":"2D_rad_3","f":5.7,"v":33},{"s":"2D_rad_3","f":5.85,"v":40},{"s":"2D_rad_3","f":5.95,"v":30},{"s":"2D_rad_3","f":6.05,"v":18},{"s":"2D_rad_3","f":6.2,"v":10},{"s":"2D_rad_3","f":6.35,"v":5},{"s":"2D_rad_3","f":6.5,"v":12},{"s":"2D_rad_3","f":6.65,"v":25},{"s":"2D_rad_3","f":6.8,"v":32},{"s":"2D_rad_3","f":6.9,"v":28},{"s":"2D_rad_3","f":7.0,"v":38},{"s":"2D_rad_3","f":7.1,"v":33},{"s":"2D_rad_3","f":7.2,"v":28},{"s":"2D_rad_3","f":7.35,"v":22},{"s":"2D_rad_3","f":7.5,"v":20},{"s":"2D_rad_3","f":7.65,"v":15},{"s":"2D_rad_3","f":7.75,"v":19},{"s":"2D_rad_3","f":7.85,"v":17},{"s":"2D_rad_3","f":8.0,"v":12},{"s":"2D_rad_3","f":8.2,"v":8},{"s":"2D_rad_3","f":8.5,"v":5},{"s":"2D_rad_3","f":8.9,"v":3},{"s":"2D_rad_3","f":9.3,"v":1.5},{"s":"2D_rad_3","f":10,"v":0},
{"s":"2D_rad_4","f":0,"v":0},{"s":"2D_rad_4","f":0.45,"v":0},{"s":"2D_rad_4","f":0.5,"v":2},{"s":"2D_rad_4","f":0.8,"v":6},{"s":"2D_rad_4","f":1.0,"v":9},{"s":"2D_rad_4","f":1.3,"v":11},{"s":"2D_rad_4","f":1.6,"v":13},{"s":"2D_rad_4","f":1.8,"v":16},{"s":"2D_rad_4","f":2.0,"v":18},{"s":"2D_rad_4","f":2.3,"v":21},{"s":"2D_rad_4","f":2.55,"v":25},{"s":"2D_rad_4","f":2.75,"v":30},{"s":"2D_rad_4","f":2.9,"v":34},{"s":"2D_rad_4","f":3.05,"v":37},{"s":"2D_rad_4","f":3.2,"v":35},{"s":"2D_rad_4","f":3.4,"v":34},{"s":"2D_rad_4","f":3.6,"v":33},{"s":"2D_rad_4","f":3.75,"v":36},{"s":"2D_rad_4","f":3.9,"v":40},{"s":"2D_rad_4","f":4.0,"v":42},{"s":"2D_rad_4","f":4.1,"v":58},{"s":"2D_rad_4","f":4.15,"v":68},{"s":"2D_rad_4","f":4.22,"v":55},{"s":"2D_rad_4","f":4.3,"v":48},{"s":"2D_rad_4","f":4.4,"v":52},{"s":"2D_rad_4","f":4.5,"v":56},{"s":"2D_rad_4","f":4.6,"v":50},{"s":"2D_rad_4","f":4.7,"v":53},{"s":"2D_rad_4","f":4.8,"v":48},{"s":"2D_rad_4","f":4.9,"v":42},{"s":"2D_rad_4","f":5.0,"v":38},{"s":"2D_rad_4","f":5.1,"v":30},{"s":"2D_rad_4","f":5.2,"v":32},{"s":"2D_rad_4","f":5.3,"v":28},{"s":"2D_rad_4","f":5.45,"v":22},{"s":"2D_rad_4","f":5.55,"v":25},{"s":"2D_rad_4","f":5.7,"v":30},{"s":"2D_rad_4","f":5.8,"v":27},{"s":"2D_rad_4","f":5.9,"v":19},{"s":"2D_rad_4","f":6.0,"v":25},{"s":"2D_rad_4","f":6.15,"v":22},{"s":"2D_rad_4","f":6.3,"v":30},{"s":"2D_rad_4","f":6.45,"v":40},{"s":"2D_rad_4","f":6.58,"v":46},{"s":"2D_rad_4","f":6.7,"v":42},{"s":"2D_rad_4","f":6.8,"v":35},{"s":"2D_rad_4","f":6.9,"v":22},{"s":"2D_rad_4","f":7.0,"v":15},{"s":"2D_rad_4","f":7.1,"v":12},{"s":"2D_rad_4","f":7.3,"v":10},{"s":"2D_rad_4","f":7.5,"v":12},{"s":"2D_rad_4","f":7.7,"v":7},{"s":"2D_rad_4","f":8.0,"v":6},{"s":"2D_rad_4","f":8.3,"v":4},{"s":"2D_rad_4","f":8.7,"v":2},{"s":"2D_rad_4","f":9.2,"v":1},{"s":"2D_rad_4","f":10,"v":0},
{"s":"2D_rad_5","f":0,"v":0},{"s":"2D_rad_5","f":0.45,"v":0},{"s":"2D_rad_5","f":0.5,"v":3},{"s":"2D_rad_5","f":0.8,"v":7},{"s":"2D_rad_5","f":1.0,"v":9},{"s":"2D_rad_5","f":1.3,"v":11},{"s":"2D_rad_5","f":1.6,"v":12},{"s":"2D_rad_5","f":1.9,"v":15},{"s":"2D_rad_5","f":2.2,"v":19},{"s":"2D_rad_5","f":2.5,"v":21},{"s":"2D_rad_5","f":2.75,"v":23},{"s":"2D_rad_5","f":2.95,"v":30},{"s":"2D_rad_5","f":3.1,"v":33},{"s":"2D_rad_5","f":3.3,"v":33},{"s":"2D_rad_5","f":3.5,"v":37},{"s":"2D_rad_5","f":3.65,"v":34},{"s":"2D_rad_5","f":3.8,"v":31},{"s":"2D_rad_5","f":3.95,"v":33},{"s":"2D_rad_5","f":4.05,"v":40},{"s":"2D_rad_5","f":4.15,"v":45},{"s":"2D_rad_5","f":4.25,"v":38},{"s":"2D_rad_5","f":4.35,"v":42},{"s":"2D_rad_5","f":4.5,"v":40},{"s":"2D_rad_5","f":4.6,"v":45},{"s":"2D_rad_5","f":4.7,"v":37},{"s":"2D_rad_5","f":4.85,"v":33},{"s":"2D_rad_5","f":5.0,"v":30},{"s":"2D_rad_5","f":5.1,"v":29},{"s":"2D_rad_5","f":5.2,"v":33},{"s":"2D_rad_5","f":5.3,"v":42},{"s":"2D_rad_5","f":5.4,"v":48},{"s":"2D_rad_5","f":5.55,"v":51},{"s":"2D_rad_5","f":5.7,"v":53},{"s":"2D_rad_5","f":5.8,"v":50},{"s":"2D_rad_5","f":5.9,"v":45},{"s":"2D_rad_5","f":6.0,"v":35},{"s":"2D_rad_5","f":6.1,"v":22},{"s":"2D_rad_5","f":6.2,"v":10},{"s":"2D_rad_5","f":6.35,"v":4},{"s":"2D_rad_5","f":6.5,"v":12},{"s":"2D_rad_5","f":6.6,"v":18},{"s":"2D_rad_5","f":6.7,"v":25},{"s":"2D_rad_5","f":6.85,"v":22},{"s":"2D_rad_5","f":6.95,"v":28},{"s":"2D_rad_5","f":7.05,"v":24},{"s":"2D_rad_5","f":7.2,"v":18},{"s":"2D_rad_5","f":7.4,"v":12},{"s":"2D_rad_5","f":7.6,"v":10},{"s":"2D_rad_5","f":7.8,"v":9},{"s":"2D_rad_5","f":8.0,"v":7},{"s":"2D_rad_5","f":8.3,"v":5},{"s":"2D_rad_5","f":8.7,"v":3},{"s":"2D_rad_5","f":9.2,"v":1.5},{"s":"2D_rad_5","f":10,"v":0},
{"s":"2D_rad_6","f":0,"v":0},{"s":"2D_rad_6","f":0.45,"v":0},{"s":"2D_rad_6","f":0.5,"v":3},{"s":"2D_rad_6","f":0.8,"v":7},{"s":"2D_rad_6","f":1.0,"v":9},{"s":"2D_rad_6","f":1.2,"v":11},{"s":"2D_rad_6","f":1.4,"v":13},{"s":"2D_rad_6","f":1.6,"v":11},{"s":"2D_rad_6","f":1.8,"v":9},{"s":"2D_rad_6","f":1.95,"v":8},{"s":"2D_rad_6","f":2.1,"v":11},{"s":"2D_rad_6","f":2.3,"v":12},{"s":"2D_rad_6","f":2.5,"v":13},{"s":"2D_rad_6","f":2.7,"v":13},{"s":"2D_rad_6","f":2.9,"v":14},{"s":"2D_rad_6","f":3.05,"v":18},{"s":"2D_rad_6","f":3.2,"v":22},{"s":"2D_rad_6","f":3.35,"v":26},{"s":"2D_rad_6","f":3.5,"v":29},{"s":"2D_rad_6","f":3.65,"v":27},{"s":"2D_rad_6","f":3.8,"v":25},{"s":"2D_rad_6","f":3.95,"v":28},{"s":"2D_rad_6","f":4.05,"v":33},{"s":"2D_rad_6","f":4.15,"v":36},{"s":"2D_rad_6","f":4.25,"v":33},{"s":"2D_rad_6","f":4.4,"v":35},{"s":"2D_rad_6","f":4.55,"v":40},{"s":"2D_rad_6","f":4.65,"v":37},{"s":"2D_rad_6","f":4.8,"v":36},{"s":"2D_rad_6","f":4.9,"v":34},{"s":"2D_rad_6","f":5.0,"v":33},{"s":"2D_rad_6","f":5.15,"v":35},{"s":"2D_rad_6","f":5.3,"v":32},{"s":"2D_rad_6","f":5.45,"v":37},{"s":"2D_rad_6","f":5.6,"v":35},{"s":"2D_rad_6","f":5.75,"v":34},{"s":"2D_rad_6","f":5.85,"v":30},{"s":"2D_rad_6","f":5.95,"v":20},{"s":"2D_rad_6","f":6.05,"v":15},{"s":"2D_rad_6","f":6.2,"v":12},{"s":"2D_rad_6","f":6.35,"v":18},{"s":"2D_rad_6","f":6.5,"v":30},{"s":"2D_rad_6","f":6.6,"v":36},{"s":"2D_rad_6","f":6.7,"v":41},{"s":"2D_rad_6","f":6.78,"v":33},{"s":"2D_rad_6","f":6.9,"v":18},{"s":"2D_rad_6","f":7.0,"v":10},{"s":"2D_rad_6","f":7.15,"v":7},{"s":"2D_rad_6","f":7.3,"v":8},{"s":"2D_rad_6","f":7.5,"v":11},{"s":"2D_rad_6","f":7.65,"v":5},{"s":"2D_rad_6","f":7.9,"v":4},{"s":"2D_rad_6","f":8.2,"v":4},{"s":"2D_rad_6","f":8.6,"v":2},{"s":"2D_rad_6","f":9.0,"v":2},{"s":"2D_rad_6","f":9.5,"v":1},{"s":"2D_rad_6","f":10,"v":0},
{"s":"2D_rad_7","f":0,"v":0},{"s":"2D_rad_7","f":0.45,"v":0},{"s":"2D_rad_7","f":0.5,"v":2},{"s":"2D_rad_7","f":0.7,"v":5},{"s":"2D_rad_7","f":1.0,"v":10},{"s":"2D_rad_7","f":1.3,"v":12},{"s":"2D_rad_7","f":1.6,"v":14},{"s":"2D_rad_7","f":1.9,"v":12},{"s":"2D_rad_7","f":2.2,"v":13},{"s":"2D_rad_7","f":2.4,"v":15},{"s":"2D_rad_7","f":2.6,"v":16},{"s":"2D_rad_7","f":2.8,"v":14},{"s":"2D_rad_7","f":3.0,"v":13},{"s":"2D_rad_7","f":3.2,"v":11},{"s":"2D_rad_7","f":3.4,"v":8},{"s":"2D_rad_7","f":3.6,"v":6},{"s":"2D_rad_7","f":3.8,"v":4.5},{"s":"2D_rad_7","f":3.95,"v":5},{"s":"2D_rad_7","f":4.1,"v":8},{"s":"2D_rad_7","f":4.25,"v":7},{"s":"2D_rad_7","f":4.4,"v":10},{"s":"2D_rad_7","f":4.55,"v":12},{"s":"2D_rad_7","f":4.7,"v":15},{"s":"2D_rad_7","f":4.8,"v":12},{"s":"2D_rad_7","f":4.9,"v":13},{"s":"2D_rad_7","f":5.0,"v":6},{"s":"2D_rad_7","f":5.1,"v":3},{"s":"2D_rad_7","f":5.2,"v":2},{"s":"2D_rad_7","f":5.3,"v":4},{"s":"2D_rad_7","f":5.45,"v":3},{"s":"2D_rad_7","f":5.6,"v":2},{"s":"2D_rad_7","f":5.8,"v":1.5},{"s":"2D_rad_7","f":5.95,"v":4},{"s":"2D_rad_7","f":6.1,"v":10},{"s":"2D_rad_7","f":6.25,"v":15},{"s":"2D_rad_7","f":6.35,"v":10},{"s":"2D_rad_7","f":6.5,"v":5},{"s":"2D_rad_7","f":6.6,"v":12},{"s":"2D_rad_7","f":6.75,"v":18},{"s":"2D_rad_7","f":6.9,"v":13},{"s":"2D_rad_7","f":7.05,"v":15},{"s":"2D_rad_7","f":7.2,"v":10},{"s":"2D_rad_7","f":7.4,"v":13},{"s":"2D_rad_7","f":7.55,"v":18},{"s":"2D_rad_7","f":7.7,"v":22},{"s":"2D_rad_7","f":7.85,"v":12},{"s":"2D_rad_7","f":8.0,"v":8},{"s":"2D_rad_7","f":8.3,"v":5},{"s":"2D_rad_7","f":8.7,"v":2},{"s":"2D_rad_7","f":9.2,"v":1},{"s":"2D_rad_7","f":10,"v":0},
{"s":"2D_rad_8","f":0,"v":0},{"s":"2D_rad_8","f":0.45,"v":0},{"s":"2D_rad_8","f":0.5,"v":4},{"s":"2D_rad_8","f":0.55,"v":0},{"s":"2D_rad_8","f":0.6,"v":4},{"s":"2D_rad_8","f":0.8,"v":7},{"s":"2D_rad_8","f":1.0,"v":10},{"s":"2D_rad_8","f":1.2,"v":13},{"s":"2D_rad_8","f":1.4,"v":17},{"s":"2D_rad_8","f":1.6,"v":20},{"s":"2D_rad_8","f":1.75,"v":17},{"s":"2D_rad_8","f":1.9,"v":15},{"s":"2D_rad_8","f":2.1,"v":15},{"s":"2D_rad_8","f":2.3,"v":18},{"s":"2D_rad_8","f":2.5,"v":22},{"s":"2D_rad_8","f":2.7,"v":21},{"s":"2D_rad_8","f":2.9,"v":20},{"s":"2D_rad_8","f":3.05,"v":23},{"s":"2D_rad_8","f":3.2,"v":22},{"s":"2D_rad_8","f":3.4,"v":20},{"s":"2D_rad_8","f":3.6,"v":19},{"s":"2D_rad_8","f":3.75,"v":15},{"s":"2D_rad_8","f":3.9,"v":12},{"s":"2D_rad_8","f":4.05,"v":14},{"s":"2D_rad_8","f":4.2,"v":13},{"s":"2D_rad_8","f":4.35,"v":16},{"s":"2D_rad_8","f":4.5,"v":18},{"s":"2D_rad_8","f":4.65,"v":21},{"s":"2D_rad_8","f":4.8,"v":24},{"s":"2D_rad_8","f":4.95,"v":28},{"s":"2D_rad_8","f":5.05,"v":22},{"s":"2D_rad_8","f":5.15,"v":18},{"s":"2D_rad_8","f":5.3,"v":10},{"s":"2D_rad_8","f":5.45,"v":6},{"s":"2D_rad_8","f":5.6,"v":4},{"s":"2D_rad_8","f":5.8,"v":2},{"s":"2D_rad_8","f":5.95,"v":4},{"s":"2D_rad_8","f":6.1,"v":8},{"s":"2D_rad_8","f":6.2,"v":12},{"s":"2D_rad_8","f":6.3,"v":22},{"s":"2D_rad_8","f":6.4,"v":27},{"s":"2D_rad_8","f":6.5,"v":15},{"s":"2D_rad_8","f":6.6,"v":10},{"s":"2D_rad_8","f":6.8,"v":7},{"s":"2D_rad_8","f":7.0,"v":6},{"s":"2D_rad_8","f":7.2,"v":4},{"s":"2D_rad_8","f":7.5,"v":4},{"s":"2D_rad_8","f":7.8,"v":3},{"s":"2D_rad_8","f":8.2,"v":2},{"s":"2D_rad_8","f":8.7,"v":1},{"s":"2D_rad_8","f":9.5,"v":0.5},{"s":"2D_rad_8","f":10,"v":0}
]
},
"concat": [
 {
  "width": 435, "height": 297,
  "layer": [
   {"data": {"values": [{}]}, "mark": {"type": "rect", "clip": false, "fill": "#e6e6e6", "stroke": "#d2d2d2", "strokeWidth": 2},
    "encoding": {"x": {"datum": -1.149, "type": "quantitative", "axis": null}, "x2": {"datum": 10.253}, "y": {"datum": 414.8, "type": "quantitative", "axis": null}, "y2": {"datum": -56.6}}},
   {"data": {"values": [{}]}, "mark": {"type": "rect", "fill": "white", "stroke": "#111", "strokeWidth": 1.5},
    "encoding": {"x": {"datum": 0, "type": "quantitative", "axis": null}, "x2": {"datum": 10}, "y": {"datum": 0, "type": "quantitative", "axis": null}, "y2": {"datum": 400}}},
   {"data": {"name": "tl"}, "mark": {"type": "line", "interpolate": "monotone", "strokeWidth": 1.2, "clip": true},
    "encoding": {
     "x": {"field": "f", "type": "quantitative", "scale": {"domain": [0, 10], "nice": false}, "axis": {"zindex": 1, "orient": "bottom", "values": [0, 2, 4, 6, 8, 10], "title": "frequency (Hz)", "grid": true, "tickSize": 5, "labelFontSize": 13, "labelPadding": 4, "titleFontSize": 13, "titlePadding": 2, "domainWidth": 1.5}},
     "y": {"field": "v", "type": "quantitative", "scale": {"domain": [0, 400], "nice": false}, "axis": {"zindex": 1, "orient": "left", "values": [0, 50, 100, 150, 200, 250, 300, 350, 400], "title": "2D Accelearation FA (cm/s)", "grid": true, "tickSize": 6, "labelFontSize": 13, "labelPadding": 3, "titleFontSize": 13, "titlePadding": 3, "domainWidth": 1.5}},
     "color": {"field": "s", "type": "nominal", "scale": {"domain": ["2D_rad_1", "2D_rad_2", "2D_rad_3", "2D_rad_4", "2D_rad_5", "2D_rad_6", "2D_rad_7", "2D_rad_8"], "range": ["#2c3592", "#17a84e", "#ec2329", "#fff200", "#a21d5c", "#f7941d", "#2c3592", "#0fa54d"]},
      "legend": {"title": null, "orient": "none", "legendX": 309, "legendY": 7, "fillColor": "white", "strokeColor": "#333", "padding": 2.5, "symbolType": "stroke", "symbolSize": 529, "symbolStrokeWidth": 1.5, "symbolOffset": 8.5, "labelOffset": 9, "labelFontSize": 13, "rowPadding": 5.3, "labelExpr": "datum.label + '\u00a0\u00a0\u00a0'"}}
    }},
   {"data": {"values": [{}]}, "mark": {"type": "point", "opacity": 0},
    "encoding": {"x": {"datum": 0, "type": "quantitative", "axis": {"zindex": 1, "orient": "bottom", "values": [0.4, 0.8, 1.2, 1.6, 2.4, 2.8, 3.2, 3.6, 4.4, 4.8, 5.2, 5.6, 6.4, 6.8, 7.2, 7.6, 8.4, 8.8, 9.2, 9.6], "labels": false, "grid": false, "domain": false, "tickSize": 3, "title": null}},
     "y": {"datum": 0, "type": "quantitative", "axis": {"zindex": 1, "orient": "left", "values": [10, 20, 30, 40, 60, 70, 80, 90, 110, 120, 130, 140, 160, 170, 180, 190, 210, 220, 230, 240, 260, 270, 280, 290, 310, 320, 330, 340, 360, 370, 380, 390], "labels": false, "grid": false, "domain": false, "tickSize": 3, "title": null}}}},
   {"data": {"values": [{}]}, "mark": {"type": "rule", "clip": false, "color": "#222", "strokeWidth": 1.3},
    "encoding": {"x": {"datum": 10.37, "type": "quantitative", "axis": null}, "x2": {"datum": 11.057}, "y": {"datum": 176.4, "type": "quantitative", "axis": null}}},
   {"data": {"values": [{}]}, "mark": {"type": "rule", "clip": false, "color": "#222", "strokeWidth": 1.3},
    "encoding": {"x": {"datum": 11.057, "type": "quantitative", "axis": null}, "y": {"datum": 176.4, "type": "quantitative", "axis": null}, "y2": {"datum": -304.4}}},
   {"data": {"values": [{}]}, "mark": {"type": "rule", "clip": false, "color": "#222", "strokeWidth": 1.3},
    "encoding": {"x": {"datum": 11.057, "type": "quantitative", "axis": null}, "x2": {"datum": 11.862}, "y": {"datum": -304.4, "type": "quantitative", "axis": null}}},
   {"data": {"values": [{}]}, "mark": {"type": "point", "shape": "triangle-left", "filled": true, "color": "#111", "opacity": 1, "size": 80, "clip": false},
    "encoding": {"x": {"datum": 10.37, "type": "quantitative", "axis": null}, "y": {"datum": 176.4, "type": "quantitative", "axis": null}}},
   {"data": {"values": [{}]}, "mark": {"type": "text", "text": "2D- Extended source", "align": "left", "baseline": "alphabetic", "font": "DejaVu Sans", "fontSize": 28, "color": "#1a1a1a", "clip": false},
    "encoding": {"x": {"datum": 12.115, "type": "quantitative", "axis": null}, "y": {"datum": -319.2, "type": "quantitative", "axis": null}}}
  ],
  "resolve": {"axis": {"x": "independent", "y": "independent"}}
 },
 {
  "width": 272, "height": 284,
  "layer": [
   {"data": {"values": [{}]}, "mark": {"type": "rect", "clip": false, "fill": "#e6e6e6", "stroke": "#d2d2d2", "strokeWidth": 2},
    "encoding": {"x": {"datum": -1.213, "type": "quantitative", "axis": null}, "x2": {"datum": 14.375}, "y": {"datum": 143.6, "type": "quantitative", "axis": null}, "y2": {"datum": -20.4}}},
   {"data": {"values": [{}]}, "mark": {"type": "rect", "fill": "white", "stroke": "#111", "strokeWidth": 1.5},
    "encoding": {"x": {"datum": 0, "type": "quantitative", "axis": null}, "x2": {"datum": 10}, "y": {"datum": 0, "type": "quantitative", "axis": null}, "y2": {"datum": 140}}},
   {"data": {"name": "tr"}, "mark": {"type": "line", "strokeWidth": 1, "clip": true},
    "encoding": {
     "x": {"field": "f", "type": "quantitative", "scale": {"domain": [0, 10], "nice": false}, "axis": {"zindex": 1, "orient": "bottom", "values": [0, 1, 2, 3, 4, 5, 6, 7, 8, 9, 10], "title": "frequency (Hz)", "grid": true, "tickSize": 4, "labelFontSize": 11, "labelPadding": 4, "titleFontSize": 11, "titlePadding": 3, "domainWidth": 1.5}},
     "y": {"field": "v", "type": "quantitative", "scale": {"domain": [0, 140], "nice": false, "range": [284, 9]}, "axis": {"zindex": 1, "orient": "left", "values": [0, 20, 40, 60, 80, 100, 120, 140], "title": "2D Accelearation FA (cm/s)", "grid": true, "tickSize": 5, "labelFontSize": 11, "labelPadding": 1, "titleFontSize": 10, "titlePadding": 0, "domainWidth": 1.5}},
     "color": {"field": "s", "type": "nominal", "scale": {"domain": ["2D_rad_1", "2D_rad_2", "2D_rad_3", "2D_rad_4", "2D_rad_5", "2D_rad_6", "2D_rad_7", "2D_rad_8"], "range": ["#2c3592", "#17a84e", "#ec2329", "#fff200", "#a21d5c", "#f7941d", "#2c3592", "#0fa54d"]},
      "legend": {"title": null, "orient": "none", "legendX": 304, "legendY": 8, "fillColor": "white", "strokeColor": "#333", "padding": 5, "symbolType": "stroke", "symbolSize": 289, "symbolStrokeWidth": 1.2, "symbolOffset": 2, "labelOffset": 9, "labelFontSize": 10.5, "rowPadding": 10.5, "labelExpr": "datum.label + '\u00a0'"}}
    }},
   {"data": {"values": [{}]}, "mark": {"type": "point", "opacity": 0},
    "encoding": {"x": {"datum": 0, "type": "quantitative", "axis": {"zindex": 1, "orient": "bottom", "values": [0.2, 0.4, 0.6, 0.8, 1.2, 1.4, 1.6, 1.8, 2.2, 2.4, 2.6, 2.8, 3.2, 3.4, 3.6, 3.8, 4.2, 4.4, 4.6, 4.8, 5.2, 5.4, 5.6, 5.8, 6.2, 6.4, 6.6, 6.8, 7.2, 7.4, 7.6, 7.8, 8.2, 8.4, 8.6, 8.8, 9.2, 9.4, 9.6, 9.8], "labels": false, "grid": false, "domain": false, "tickSize": 3, "title": null}},
     "y": {"datum": 0, "type": "quantitative", "axis": {"zindex": 1, "orient": "left", "values": [5, 10, 15, 25, 30, 35, 45, 50, 55, 65, 70, 75, 85, 90, 95, 105, 110, 115, 125, 130, 135], "labels": false, "grid": false, "domain": false, "tickSize": 3, "title": null}}}},
   {"data": {"values": [{}]}, "mark": {"type": "rule", "clip": false, "color": "#222", "strokeWidth": 1.3},
    "encoding": {"x": {"datum": 6.471, "type": "quantitative", "axis": null}, "y": {"datum": -28, "type": "quantitative", "axis": null}, "y2": {"datum": -44.3}}},
   {"data": {"values": [{}]}, "mark": {"type": "rule", "clip": false, "color": "#222", "strokeWidth": 1.3},
    "encoding": {"x": {"datum": 6.471, "type": "quantitative", "axis": null}, "x2": {"datum": 12.684}, "y": {"datum": -44.3, "type": "quantitative", "axis": null}}},
   {"data": {"values": [{}]}, "mark": {"type": "rule", "clip": false, "color": "#222", "strokeWidth": 1.3},
    "encoding": {"x": {"datum": 12.684, "type": "quantitative", "axis": null}, "y": {"datum": -44.3, "type": "quantitative", "axis": null}, "y2": {"datum": -68.2}}},
   {"data": {"values": [{}]}, "mark": {"type": "point", "shape": "triangle-up", "filled": true, "color": "#111", "opacity": 1, "size": 80, "clip": false},
    "encoding": {"x": {"datum": 6.471, "type": "quantitative", "axis": null}, "y": {"datum": -28, "type": "quantitative", "axis": null}}},
   {"data": {"values": [{}]}, "mark": {"type": "text", "text": "2D", "align": "center", "baseline": "alphabetic", "font": "DejaVu Sans", "fontSize": 28, "color": "#1a1a1a", "clip": false},
    "encoding": {"x": {"datum": 12.684, "type": "quantitative", "axis": null}, "y": {"datum": -85, "type": "quantitative", "axis": null}}}
  ],
  "resolve": {"axis": {"x": "independent", "y": "independent"}}
 },
 {
  "width": 435, "height": 296,
  "layer": [
   {"data": {"values": [{}]}, "mark": {"type": "rect", "clip": false, "fill": "#e6e6e6", "stroke": "#d2d2d2", "strokeWidth": 2},
    "encoding": {"x": {"datum": -1.08, "type": "quantitative", "axis": null}, "x2": {"datum": 10.184}, "y": {"datum": 410.8, "type": "quantitative", "axis": null}, "y2": {"datum": -54.05}}},
   {"data": {"values": [{}]}, "mark": {"type": "rect", "fill": "white", "stroke": "#111", "strokeWidth": 1.5},
    "encoding": {"x": {"datum": 0, "type": "quantitative", "axis": null}, "x2": {"datum": 10}, "y": {"datum": 0, "type": "quantitative", "axis": null}, "y2": {"datum": 400}}},
   {"data": {"name": "bl"}, "mark": {"type": "line", "interpolate": "monotone", "strokeWidth": 1.3, "clip": true},
    "encoding": {
     "x": {"field": "f", "type": "quantitative", "scale": {"domain": [0, 10], "nice": false}, "axis": {"zindex": 1, "orient": "bottom", "values": [0, 2, 4, 6, 8, 10], "title": "frequency (Hz)", "grid": true, "tickSize": 5, "labelFontSize": 13, "labelPadding": 4, "titleFontSize": 13, "titlePadding": 2, "domainWidth": 1.5}},
     "y": {"field": "v", "type": "quantitative", "scale": {"domain": [0, 400], "nice": false}, "axis": {"zindex": 1, "orient": "left", "values": [0, 50, 100, 150, 200, 250, 300, 350, 400], "title": "1D Accelearation FA (cm/s)", "grid": true, "tickSize": 6, "labelFontSize": 13, "labelPadding": 3, "titleFontSize": 13, "titlePadding": 3, "domainWidth": 1.5}},
     "color": {"field": "s", "type": "nominal", "scale": {"domain": ["1D_rad_1", "1D_rad_2", "1D_rad_3", "1D_rad_4", "1D_rad_5", "1D_rad_6", "1D_rad_7", "1D_rad_8"], "range": ["#5a5fb0", "#12a64c", "#ec2329", "#fff200", "#b0306a", "#f7941d", "#3a3fa0", "#3fb878"]},
      "legend": {"title": null, "orient": "none", "legendX": 308, "legendY": 6, "fillColor": "white", "strokeColor": "#333", "padding": 2.5, "symbolType": "stroke", "symbolSize": 529, "symbolStrokeWidth": 2, "symbolOffset": 8.5, "labelOffset": 9, "labelFontSize": 13, "rowPadding": 5.3, "labelExpr": "datum.label + '\u00a0\u00a0\u00a0'"}}
    }},
   {"data": {"values": [{}]}, "mark": {"type": "point", "opacity": 0},
    "encoding": {"x": {"datum": 0, "type": "quantitative", "axis": {"zindex": 1, "orient": "bottom", "values": [0.4, 0.8, 1.2, 1.6, 2.4, 2.8, 3.2, 3.6, 4.4, 4.8, 5.2, 5.6, 6.4, 6.8, 7.2, 7.6, 8.4, 8.8, 9.2, 9.6], "labels": false, "grid": false, "domain": false, "tickSize": 3, "title": null}},
     "y": {"datum": 0, "type": "quantitative", "axis": {"zindex": 1, "orient": "left", "values": [10, 20, 30, 40, 60, 70, 80, 90, 110, 120, 130, 140, 160, 170, 180, 190, 210, 220, 230, 240, 260, 270, 280, 290, 310, 320, 330, 340, 360, 370, 380, 390], "labels": false, "grid": false, "domain": false, "tickSize": 3, "title": null}}}},
   {"data": {"values": [{}]}, "mark": {"type": "rule", "clip": false, "color": "#222", "strokeWidth": 1.3},
    "encoding": {"x": {"datum": 4.529, "type": "quantitative", "axis": null}, "y": {"datum": -64.9, "type": "quantitative", "axis": null}, "y2": {"datum": -90.5}}},
   {"data": {"values": [{}]}, "mark": {"type": "rule", "clip": false, "color": "#222", "strokeWidth": 1.3},
    "encoding": {"x": {"datum": 4.529, "type": "quantitative", "axis": null}, "x2": {"datum": 10.897}, "y": {"datum": -90.5, "type": "quantitative", "axis": null}}},
   {"data": {"values": [{}]}, "mark": {"type": "rule", "clip": false, "color": "#222", "strokeWidth": 1.3},
    "encoding": {"x": {"datum": 10.897, "type": "quantitative", "axis": null}, "y": {"datum": -90.5, "type": "quantitative", "axis": null}, "y2": {"datum": 43.2}}},
   {"data": {"values": [{}]}, "mark": {"type": "rule", "clip": false, "color": "#222", "strokeWidth": 1.3},
    "encoding": {"x": {"datum": 10.897, "type": "quantitative", "axis": null}, "x2": {"datum": 11.655}, "y": {"datum": 43.2, "type": "quantitative", "axis": null}}},
   {"data": {"values": [{}]}, "mark": {"type": "point", "shape": "triangle-up", "filled": true, "color": "#111", "opacity": 1, "size": 80, "clip": false},
    "encoding": {"x": {"datum": 4.529, "type": "quantitative", "axis": null}, "y": {"datum": -64.9, "type": "quantitative", "axis": null}}},
   {"data": {"values": [{}]}, "mark": {"type": "text", "text": "1D- Extended source", "align": "left", "baseline": "alphabetic", "font": "DejaVu Sans", "fontSize": 28, "color": "#1a1a1a", "clip": false},
    "encoding": {"x": {"datum": 11.908, "type": "quantitative", "axis": null}, "y": {"datum": 27.0, "type": "quantitative", "axis": null}}}
  ],
  "resolve": {"axis": {"x": "independent", "y": "independent"}}
 }
],
"columns": 2,
"spacing": {"row": 63, "column": 125},
"bounds": "flush",
"resolve": {"scale": {"color": "independent"}, "legend": {"color": "independent"}}
}
